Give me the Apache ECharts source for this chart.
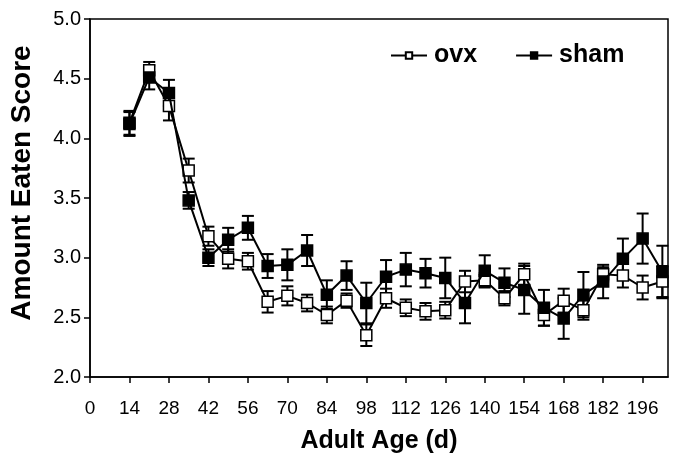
<!DOCTYPE html>
<html><head><meta charset="utf-8">
<script src="https://cdn.jsdelivr.net/npm/echarts@6/dist/echarts.min.js"></script>
<style>html,body{margin:0;padding:0;background:#fff}#c{width:675px;height:462px}</style>
</head><body><div id="c"></div>
<script>
var days = [14,21,28,35,42,49,56,63,70,77,84,91,98,105,112,119,126,133,140,147,154,161,168,175,182,189,196,203];
var ovxMean = [4.13,4.57,4.27,3.73,3.18,2.99,2.97,2.63,2.68,2.62,2.52,2.64,2.35,2.66,2.58,2.55,2.56,2.80,2.81,2.66,2.86,2.52,2.64,2.56,2.86,2.85,2.75,2.80];
var ovxErr  = [0.10,0.07,0.12,0.10,0.08,0.08,0.07,0.09,0.08,0.07,0.07,0.06,0.09,0.08,0.07,0.07,0.07,0.09,0.06,0.06,0.09,0.09,0.10,0.08,0.06,0.10,0.10,0.13];
var shamMean = [4.12,4.51,4.38,3.48,3.00,3.15,3.25,2.93,2.94,3.06,2.69,2.85,2.62,2.84,2.90,2.87,2.83,2.62,2.89,2.79,2.73,2.58,2.49,2.69,2.80,2.99,3.16,2.88];
var shamErr  = [0.10,0.10,0.11,0.07,0.07,0.10,0.10,0.10,0.13,0.13,0.12,0.12,0.17,0.14,0.14,0.12,0.17,0.17,0.13,0.12,0.20,0.15,0.17,0.19,0.14,0.17,0.21,0.22];
var xTicks = [0,14,28,42,56,70,84,98,112,126,140,154,168,182,196];
var yTicks = [2.0,2.5,3.0,3.5,4.0,4.5,5.0];

function pairs(m){ return days.map(function(d,i){ return [d, m[i]]; }); }
function errData(m,e){ return days.map(function(d,i){ return [d, m[i]-e[i], m[i]+e[i]]; }); }
function errRender(params, api){
  var x = api.value(0), lo = api.value(1), hi = api.value(2);
  var p1 = api.coord([x, lo]), p2 = api.coord([x, hi]);
  var w = 6;
  var st = {stroke:'#000', lineWidth:2};
  return {type:'group', children:[
    {type:'line', shape:{x1:p1[0],y1:p1[1],x2:p2[0],y2:p2[1]}, style:st},
    {type:'line', shape:{x1:p1[0]-w,y1:p1[1],x2:p1[0]+w,y2:p1[1]}, style:st},
    {type:'line', shape:{x1:p2[0]-w,y1:p2[1],x2:p2[0]+w,y2:p2[1]}, style:st}
  ]};
}
var font = 'Liberation Sans, Arial, sans-serif';
var chart = echarts.init(document.getElementById('c'), null, {renderer:'canvas'});
chart.setOption({
  animation:false,
  backgroundColor:'#fff',
  grid:{left:84,right:7,top:19,bottom:85,show:true,borderColor:'#000',borderWidth:1.5,containLabel:false},
  legend:{
    data:['ovx','sham'], top:38, left:385, itemGap:38, itemWidth:36, itemHeight:8,
    textStyle:{fontFamily:font,fontWeight:'bold',fontSize:25,color:'#000',padding:[0,0,0,2]}
  },
  xAxis:{
    type:'value', min:0, max:205, interval:14,
    name:'Adult Age (d)', nameLocation:'middle', nameGap:52,
    nameTextStyle:{fontFamily:font,fontWeight:'bold',fontSize:25,color:'#000'},
    axisLine:{lineStyle:{color:'#000',width:1.5}},
    axisTick:{show:true,length:6,lineStyle:{color:'#000',width:1.5}},
    axisLabel:{fontFamily:font,fontSize:19,color:'#000',margin:22,showMaxLabel:false,
      formatter:function(v){ return xTicks.indexOf(v)>=0 ? String(v) : ''; }},
    splitLine:{show:false}
  },
  yAxis:{
    type:'value', min:2, max:5, interval:0.5,
    name:'Amount Eaten Score', nameLocation:'middle', nameGap:54,
    nameTextStyle:{fontFamily:font,fontWeight:'bold',fontSize:28,color:'#000',padding:[0,0,0,30]},
    axisLine:{show:true,lineStyle:{color:'#000',width:1.5}},
    axisTick:{show:true,length:6,lineStyle:{color:'#000',width:1.5}},
    axisLabel:{fontFamily:font,fontSize:20,color:'#000',margin:9,
      formatter:function(v){ return v.toFixed(1); }},
    splitLine:{show:false}
  },
  series:[
    {type:'custom', name:'ovxErr', renderItem:errRender, data:errData(ovxMean,ovxErr), z:1, silent:true, encode:{x:0,y:[1,2]}},
    {type:'custom', name:'shamErr', renderItem:errRender, data:errData(shamMean,shamErr), z:1, silent:true, encode:{x:0,y:[1,2]}},
    {type:'line', name:'ovx', data:pairs(ovxMean), symbol:'rect', symbolSize:11, z:3,
      lineStyle:{color:'#000',width:2}, itemStyle:{color:'#fff',borderColor:'#000',borderWidth:1.5}},
    {type:'line', name:'sham', data:pairs(shamMean), symbol:'rect', symbolSize:11, z:4,
      lineStyle:{color:'#000',width:2}, itemStyle:{color:'#000',borderColor:'#000',borderWidth:1.5}}
  ]
});
</script></body></html>
